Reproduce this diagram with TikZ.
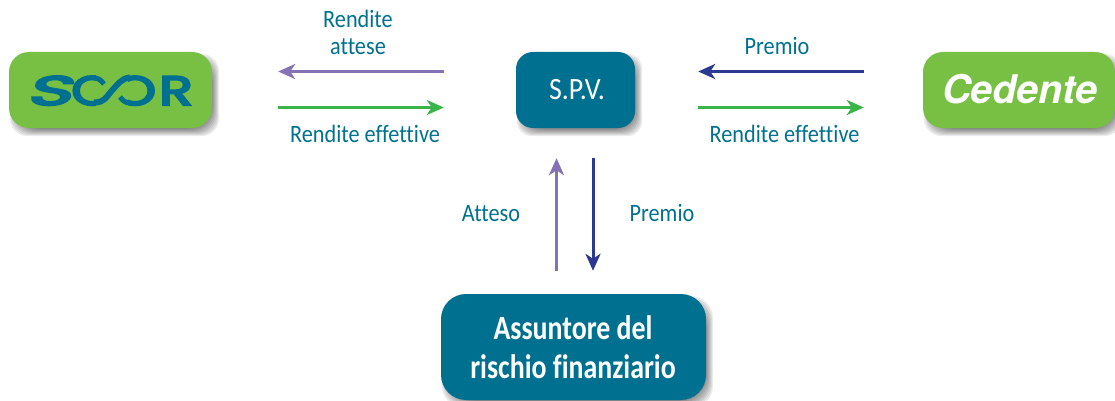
\documentclass[tikz,border=0pt]{standalone}
\usepackage{fontspec}
\setmainfont{Carlito}[RawFeature={-liga}]
\newfontfamily\heros{TeX Gyre Heros}
\newfontfamily\popp{Poppins}[FakeBold=5]
\usetikzlibrary{arrows.meta,calc}
\definecolor{tealbox}{RGB}{0,112,145}
\definecolor{tealtext}{RGB}{0,113,143}
\definecolor{leaf}{RGB}{119,192,67}
\definecolor{lilac}{RGB}{133,114,181}
\definecolor{navy}{RGB}{43,57,144}
\definecolor{arrowgreen}{RGB}{57,181,74}
\tikzset{
  x=1pt,y=-1pt,
  lbl/.style={text=tealtext,font=\fontsize{25}{28}\selectfont,inner sep=0,anchor=base,xscale=0.89},
  flow/.style={line width=3pt,-{Stealth[length=17pt,width=15pt,inset=5pt]}},
  boxtext/.style={text=white,inner sep=0,anchor=base},
  logo/.style={inner sep=0,text=tealbox,font=\popp\fontsize{41}{44}\selectfont,anchor=base},
  strand/.style={draw=tealbox,line width=6pt,line cap=butt},
}
\newcommand{\softshadow}[5]{%
  \foreach \k in {0,...,7}{%
    \fill[black,opacity=0.075,rounded corners=#5+4-\k]
      ({#1+4+4-\k},{#2+5+4-\k}) rectangle ({#3+4-4+\k},{#4+5-4+\k});
  }%
}
\begin{document}
\begin{tikzpicture}
\useasboundingbox (0,0) rectangle (1115,401);
\softshadow{9}{52}{212}{128}{20}
\softshadow{923}{52}{1115}{128}{20}
\softshadow{516}{52}{635}{128}{17}
\softshadow{441}{294}{706}{400}{25}
\node[fill=leaf,rounded corners=20,minimum width=203,minimum height=76,inner sep=0] (scor) at (110.5,90) {};
\node[fill=leaf,rounded corners=20,minimum width=192,minimum height=76,inner sep=0] (ced) at (1019,90) {};
\node[fill=tealbox,rounded corners=17,minimum width=119,minimum height=76,inner sep=0] (spv) at (575.5,90) {};
\node[fill=tealbox,rounded corners=25,minimum width=265,minimum height=106,inner sep=0] (ass) at (573.5,347) {};
% logo letters
\node[logo,xscale=1.85,xslant=0.15] (ls) at (49,105) {S};
\begin{scope}
  \clip (60,60) rectangle (96,120);
  \node[logo,xscale=1.3] (lc) at (92,105) {C};
\end{scope}
\begin{scope}
  \clip (128,60) rectangle (165,120);
  \node[logo,xscale=1.3] (lo) at (135,105) {O};
\end{scope}
\node[logo,xscale=1.35] (lr) at (176,105) {R};
\draw[strand] (94,102.5) .. controls (105,102.5) and (106,97) .. (112,90.5) .. controls (118,84) and (122,78) .. (130,77.5);
\draw[strand,line width=5pt] (94,78) .. controls (98,78) and (101,80) .. (104,84);
\draw[strand,line width=5pt] (120,97) .. controls (123,101) and (126,103) .. (130,103);
\node[boxtext,font=\heros\bfseries\itshape\fontsize{39.5}{42}\selectfont] (cedtxt) at (1020,103.5) {Cedente};
\node[boxtext,font=\fontsize{31}{34}\selectfont,xscale=0.9] (spvtxt) at (577,100) {S.P.V.};
\node[boxtext,font=\bfseries\fontsize{34}{36}\selectfont,xscale=0.82] (a1) at (573,339) {Assuntore del};
\node[boxtext,font=\bfseries\fontsize{34}{36}\selectfont,xscale=0.82] (a2) at (573,378) {rischio finanziario};
\draw[flow,lilac] ([yshift=18.5pt]spv.west) -- ([yshift=18.5pt]scor.east) [shorten <=72pt,shorten >=66pt];
\draw[flow,arrowgreen] ([yshift=-17.5pt]scor.east) -- ([yshift=-17.5pt]spv.west) [shorten <=66pt,shorten >=72pt];
\draw[flow,navy] ([yshift=18.5pt]ced.west) -- ([yshift=18.5pt]spv.east) [shorten <=59pt,shorten >=63pt];
\draw[flow,arrowgreen] ([yshift=-17.5pt]spv.east) -- ([yshift=-17.5pt]ced.west) [shorten <=63pt,shorten >=59pt];
\draw[flow,lilac] (ass.north -| 556.5,0) -- (spv.south -| 556.5,0) [shorten <=23pt,shorten >=30pt];
\draw[flow,navy] (spv.south -| 593,0) -- (ass.north -| 593,0) [shorten <=30pt,shorten >=23pt];
\node[lbl] (l1) at (358,28) {Rendite};
\node[lbl] (l2) at (358,55) {attese};
\node[lbl] (l3) at (365,142) {Rendite effettive};
\node[lbl] (l4) at (777,55) {Premio};
\node[lbl] (l5) at (784.5,142) {Rendite effettive};
\node[lbl] (l6) at (491,221) {Atteso};
\node[lbl] (l7) at (662,221) {Premio};
\end{tikzpicture}
\end{document}
